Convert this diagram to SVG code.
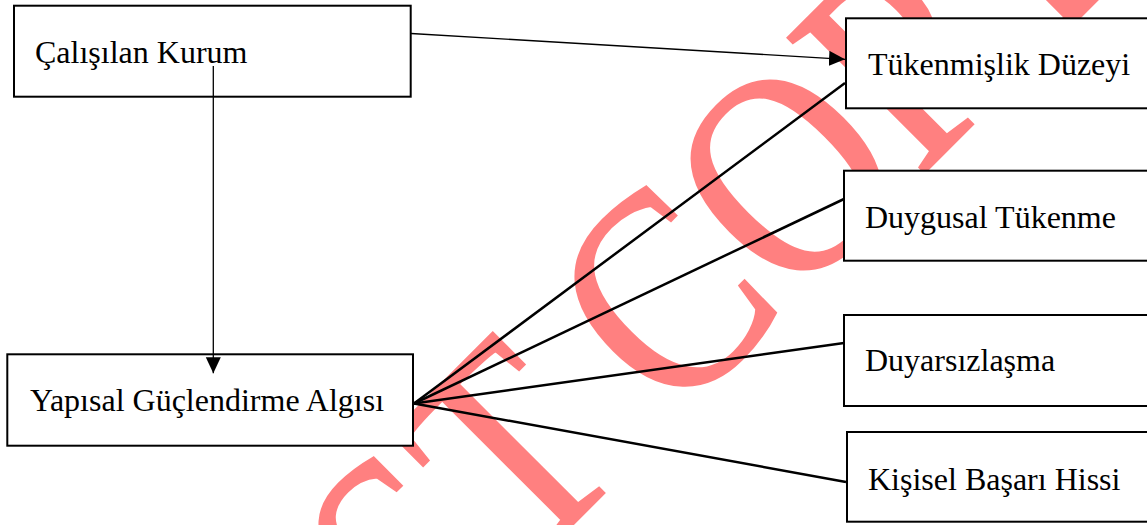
<svg xmlns="http://www.w3.org/2000/svg" width="1147" height="525" viewBox="0 0 1147 525">
<style>
.box{fill:#fff;stroke:#000;stroke-width:2}
.lbl{font-family:"Liberation Serif","Times New Roman",serif;font-size:32px;fill:#000}
.thin{stroke:#000;stroke-width:1.3;fill:none}
.fan{stroke:#000;stroke-width:2.5;fill:none}
.wm{font-family:"Liberation Serif","Times New Roman",serif;font-size:294px;fill:#ff8080;stroke:#ff8080;stroke-width:2}
</style>
<defs>
<marker id="arr" markerUnits="userSpaceOnUse" markerWidth="17" markerHeight="16" refX="16" refY="7.5" orient="auto">
<path d="M0,0 L16,7.5 L0,15 z" fill="#000"/>
</marker>
</defs>
<rect width="1147" height="525" fill="#fff"/>
<g id="watermark">
<text class="wm" transform="translate(425.7,671.8) rotate(-45) scale(0.85,1)">ST COPY</text>
</g>
<g id="n-calisilan-kurum">
<rect class="box" x="14" y="5.7" width="396.7" height="91"/>
<text class="lbl" x="35" y="63">Çalışılan Kurum</text>
</g>
<g id="n-yapisal">
<rect class="box" x="7.3" y="354.3" width="405.7" height="91.4"/>
<text class="lbl" x="30" y="411">Yapısal Güçlendirme Algısı</text>
</g>
<g id="n-tukenmislik">
<rect class="box" x="846" y="18.3" width="320" height="90"/>
<text class="lbl" x="868" y="75">Tükenmişlik Düzeyi</text>
</g>
<g id="n-duygusal">
<rect class="box" x="844" y="170.7" width="320" height="90"/>
<text class="lbl" x="865" y="228">Duygusal Tükenme</text>
</g>
<g id="n-duyarsizlasma">
<rect class="box" x="844" y="315" width="320" height="91"/>
<text class="lbl" x="865" y="371">Duyarsızlaşma</text>
</g>
<g id="n-kisisel">
<rect class="box" x="847" y="432" width="320" height="89.7"/>
<text class="lbl" x="868" y="490">Kişisel Başarı Hissi</text>
</g>
<g id="connectors">
<line class="thin" x1="411" y1="33.5" x2="845" y2="59.3" marker-end="url(#arr)"/>
<line class="thin" x1="213.3" y1="66" x2="213.3" y2="373.3" marker-end="url(#arr)"/>
<line class="fan" x1="414" y1="403.5" x2="845" y2="83"/>
<line class="fan" x1="414" y1="403.5" x2="844" y2="199"/>
<line class="fan" x1="414" y1="403.5" x2="844" y2="343"/>
<line class="fan" x1="414" y1="403.5" x2="846" y2="482"/>
</g>
</svg>
